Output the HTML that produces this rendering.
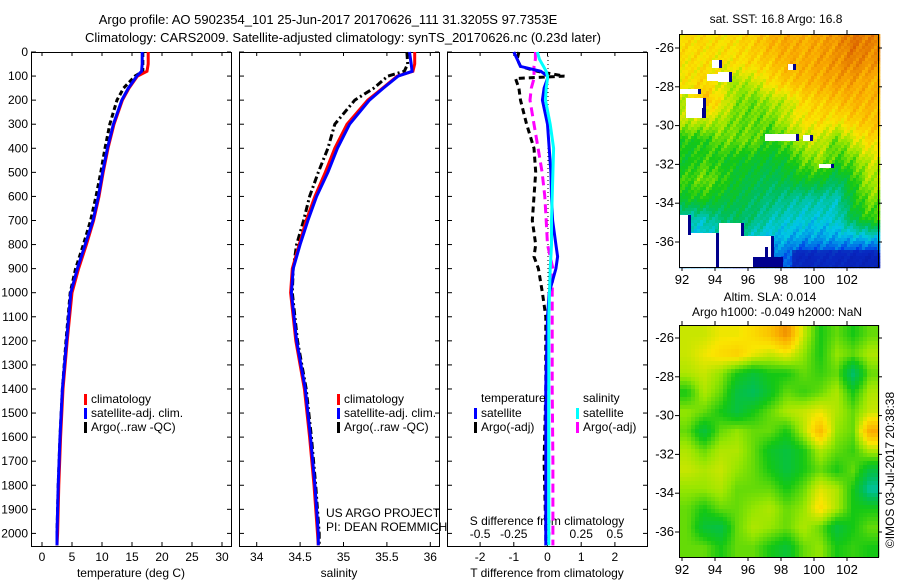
<!DOCTYPE html>
<html><head><meta charset="utf-8"><style>
html,body{margin:0;padding:0;background:#fff;}
svg{display:block;font-family:"Liberation Sans",sans-serif;}
</style></head><body>
<svg id="fig" width="900" height="580" viewBox="0 0 900 580">
<rect width="900" height="580" fill="#fff"/>
<text x="328" y="24" font-size="13" text-anchor="middle">Argo profile: AO 5902354_101 25-Jun-2017 20170626_111 31.3205S 97.7353E</text>
<text x="343" y="42" font-size="13" text-anchor="middle">Climatology: CARS2009. Satellite-adjusted climatology: synTS_20170626.nc (0.23d later)</text>
<g id="g"></g>
</svg>
<script>
// ---- profile data ----
const depths=[0,50,80,100,150,200,300,400,500,600,700,800,900,1000,1200,1400,1600,1800,2000,2050];
const tempClim=[17.7,17.7,17.5,15.9,14.5,13.4,12.0,11.0,10.2,9.5,8.6,7.4,6.1,5.0,4.2,3.5,3.1,2.8,2.6,2.5];
const tempSat=[16.7,16.7,16.6,15.8,14.4,13.3,11.9,10.9,10.1,9.4,8.5,7.2,5.9,4.8,4.1,3.4,3.0,2.7,2.5,2.5];
const tempArgo=[16.8,16.8,16.8,15.5,13.6,12.5,11.3,10.5,9.8,9.0,8.1,6.9,5.6,4.7,4.0,3.4,3.0,2.7,2.5,2.5];
const salClim=[35.82,35.82,35.80,35.62,35.45,35.28,35.04,34.90,34.79,34.67,34.57,34.49,34.41,34.39,34.45,34.55,34.61,34.66,34.70,34.71];
const salSat=[35.76,35.78,35.79,35.63,35.46,35.30,35.07,34.93,34.82,34.69,34.59,34.50,34.42,34.40,34.46,34.56,34.62,34.67,34.71,34.71];
const salArgo=[35.73,35.74,35.70,35.51,35.35,35.13,34.90,34.82,34.71,34.61,34.54,34.46,34.42,34.41,34.47,34.57,34.63,34.68,34.72,34.72];
const dDepths=[0,30,60,80,100,110,150,200,300,400,500,600,700,800,850,900,1000,1100,1400,1700,2000,2050];
const tDiffSat=[-1.0,-0.9,-0.8,-0.2,0.0,0.0,-0.1,-0.15,0.0,0.05,0.1,0.12,0.15,0.25,0.3,0.25,0.05,0.0,-0.05,-0.05,-0.05,-0.05];
const tDiffArgo=[-0.85,-0.9,-0.8,-0.3,0.5,-0.95,-0.85,-0.8,-0.62,-0.4,-0.35,-0.4,-0.45,-0.35,-0.4,-0.27,-0.15,-0.05,-0.05,-0.1,-0.05,-0.05];
const sDiffSat=[-0.075,-0.06,-0.03,-0.01,0.0,0.0,-0.01,-0.015,0.02,0.045,0.04,0.035,0.03,0.03,0.025,0.02,0.015,0.01,0.01,0.01,0.01,0.01];
const sDiffArgo=[-0.09,-0.09,-0.1,-0.1,-0.1,-0.1,-0.12,-0.13,-0.1,-0.07,-0.04,-0.02,-0.01,0.0,0.02,0.04,0.035,0.035,0.035,0.04,0.04,0.04];
const depthTicks=[0,100,200,300,400,500,600,700,800,900,1000,1100,1200,1300,1400,1500,1600,1700,1800,1900,2000];
const tempTicks=[0,5,10,15,20,25,30];
const salTicks=[34,34.5,35,35.5,36];
const tdTicks=[-2,-1,0,1,2];
const sdTicks=[-0.5,-0.25,0,0.25,0.5];
// ---- map data (colormap fraction) ----
const mapLons=[92,94,96,98,100,102];
const mapLats=[-26,-28,-30,-32,-34,-36];
const sstGrid=[
[.68,.68,.67,.68,.70,.74,.76,.75,.77,.79,.84,.82],
[.67,.67,.66,.67,.69,.71,.75,.75,.77,.79,.82,.79],
[.66,.69,.63,.59,.61,.67,.71,.73,.75,.77,.77,.75],
[.61,.74,.66,.57,.55,.59,.61,.68,.70,.72,.74,.74],
[.61,.61,.59,.55,.55,.55,.61,.66,.68,.66,.70,.72],
[.50,.50,.55,.55,.55,.50,.55,.60,.62,.55,.62,.68],
[.48,.52,.50,.48,.48,.46,.48,.55,.58,.52,.55,.62],
[.52,.56,.52,.47,.45,.43,.45,.48,.48,.42,.50,.60],
[.48,.50,.46,.45,.42,.40,.38,.36,.36,.34,.48,.56],
[.34,.34,.40,.42,.40,.35,.33,.32,.31,.33,.44,.52],
[.30,.30,.34,.38,.32,.29,.28,.26,.26,.27,.28,.30],
[.25,.25,.25,.12,.16,.22,.20,.12,.15,.14,.12,.10]];
const slaGrid=[
[.62,.62,.65,.65,.68,.72,.80,.62,.50,.55,.50,.55],
[.62,.65,.68,.70,.65,.62,.65,.58,.50,.58,.55,.60],
[.60,.62,.58,.50,.46,.50,.50,.55,.52,.55,.40,.55],
[.50,.60,.55,.45,.42,.48,.55,.52,.55,.60,.50,.60],
[.58,.55,.50,.45,.50,.55,.60,.62,.65,.60,.55,.62],
[.55,.45,.55,.58,.55,.55,.50,.60,.74,.58,.55,.76],
[.60,.55,.60,.60,.55,.48,.45,.50,.60,.55,.52,.60],
[.62,.60,.62,.58,.55,.50,.45,.50,.55,.50,.55,.45],
[.58,.58,.60,.55,.55,.55,.50,.55,.64,.60,.50,.36],
[.55,.50,.55,.55,.58,.60,.55,.58,.68,.60,.50,.50],
[.55,.46,.44,.55,.60,.58,.55,.60,.55,.45,.50,.55],
[.55,.55,.50,.55,.55,.50,.46,.55,.58,.50,.52,.50]];

const NS='http://www.w3.org/2000/svg';
const G=document.getElementById('g');
function el(tag,attrs,parent){const e=document.createElementNS(NS,tag);for(const k in attrs)e.setAttribute(k,attrs[k]);(parent||G).appendChild(e);return e;}
const TOP=52,BOT=546;
const yD=d=>TOP+d*0.2407;
const xT=v=>42+v*6;
const xS=v=>256.7+(v-34)*86.8;
const xTD=v=>547.5+v*33.7;
const xSD=v=>547.5+v*134.8;

function line(xs,ys,xf,color,w,dash,name){
  const pts=xs.map((v,i)=>xf(v).toFixed(1)+','+yD(ys[i]).toFixed(1)).join(' ');
  const p=el('polyline',{points:pts,fill:'none',stroke:color,'stroke-width':w});
  if(dash)p.setAttribute('stroke-dasharray',dash);
  
  
}
function panel(x0,x1,name,ticks,xf,labels,title,leftLabels){
  const r=el('rect',{x:x0+.5,y:TOP+.5,width:x1-x0,height:BOT-TOP,fill:'none',stroke:'#000','stroke-width':1});
  
  
  depthTicks.forEach(d=>{
    el('line',{x1:x0,x2:x0+5,y1:yD(d),y2:yD(d),stroke:'#000'});
    el('line',{x1:x1-4,x2:x1,y1:yD(d),y2:yD(d),stroke:'#000'});
    if(leftLabels){const t=el('text',{x:x0-3,y:yD(d)+4,'font-size':12,'text-anchor':'end'});t.textContent=d;
      
      }
  });
  if(ticks) ticks.forEach((v,i)=>{
    const x=xf(v);
    el('line',{x1:x,x2:x,y1:BOT-4,y2:BOT,stroke:'#000'});
    el('line',{x1:x,x2:x,y1:TOP,y2:TOP+4,stroke:'#000'});
    const t=el('text',{x:x,y:561,'font-size':12,'text-anchor':'middle'});t.textContent=labels[i];
    
    
  });
  const tt=el('text',{x:(x0+x1)/2,y:577,'font-size':12,'text-anchor':'middle'});tt.textContent=title;
  
  
}
panel(31,231,'temperature-panel',tempTicks,xT,tempTicks,'temperature (deg C)',true);
panel(239,439,'salinity-panel',salTicks,xS,salTicks,'salinity',false);
panel(447,647,'difference-panel',tdTicks,xTD,tdTicks,'T difference from climatology',false);
sdTicks.forEach(v=>{const t=el('text',{x:xSD(v),y:538,'font-size':12,'text-anchor':'middle'});t.textContent=v;
  
  });
{const t=el('text',{x:547,y:525,'font-size':12,'text-anchor':'middle'});t.textContent='S difference from climatology';
 
 }
{const z=el('line',{x1:548,x2:548,y1:TOP,y2:BOT,stroke:'#000','stroke-dasharray':'1,3'});
 
 }

line(tempArgo,depths,xT,'#000',3,'5,3','temp-argo-line');
line(tempClim,depths,xT,'#f00',3,null,'temp-climatology-line');
line(tempSat,depths,xT,'#00f',3,null,'temp-satellite-line');
line(salArgo,depths,xS,'#000',3,'7,3,2,3','sal-argo-line');
line(salClim,depths,xS,'#f00',3,null,'sal-climatology-line');
line(salSat,depths,xS,'#00f',3,null,'sal-satellite-line');
line(tDiffArgo,dDepths,xTD,'#000',3,'6,4','tdiff-argo-line');
line(sDiffArgo,dDepths,xSD,'#f0f',3,'9,5','sdiff-argo-line');
line(tDiffSat,dDepths,xTD,'#00f',3,null,'tdiff-satellite-line');
line(sDiffSat,dDepths,xSD,'#0ff',3,null,'sdiff-satellite-line');

function legend(x,y,color,label,name){
  const m=el('rect',{x:x,y:y-9,width:3,height:11,fill:color});
  
  
  const t=el('text',{x:x+7,y:y,'font-size':12});t.textContent=label;
  
  
}
legend(84,403,'#f00','climatology','legend-climatology');
legend(84,417,'#00f','satellite-adj. clim.','legend-satellite');
legend(84,431,'#000','Argo(..raw -QC)','legend-argo');
legend(337,403,'#f00','climatology','legend-sal-climatology');
legend(337,417,'#00f','satellite-adj. clim.','legend-sal-satellite');
legend(337,431,'#000','Argo(..raw -QC)','legend-sal-argo');
{const t=el('text',{x:481,y:402,'font-size':12});t.textContent='temperature';
 
 }
{const t=el('text',{x:583,y:402,'font-size':12});t.textContent='salinity';
 
 }
legend(474,417,'#00f','satellite','legend-tdiff-satellite');
legend(474,431,'#000','Argo(-adj)','legend-tdiff-argo');
legend(576,417,'#0ff','satellite','legend-sdiff-satellite');
legend(576,431,'#f0f','Argo(-adj)','legend-sdiff-argo');
{const t=el('text',{x:326,y:517,'font-size':12});t.textContent='US ARGO PROJECT';
 
 
 const t2=el('text',{x:326,y:531,'font-size':12});t2.textContent='PI: DEAN ROEMMICH';
 
 }

// ---- maps ----
const cmapStops=[[0,[0,0,140]],[0.15,[0,50,230]],[0.3,[0,200,230]],[0.42,[0,190,90]],[0.5,[20,200,20]],[0.58,[150,230,0]],[0.66,[250,230,0]],[0.76,[250,170,0]],[0.88,[215,90,0]],[1,[180,40,0]]];
function cmap(v){
  v=Math.max(0,Math.min(1,v));
  for(let k=1;k<cmapStops.length;k++){
    if(v<=cmapStops[k][0]){const a=cmapStops[k-1],b=cmapStops[k],t=(v-a[0])/(b[0]-a[0]);
      return 'rgb('+a[1].map((c,i)=>Math.round(c+(b[1][i]-c)*t)).join(',')+')';}
  }
  return 'rgb(180,40,0)';
}
const MX0=679,MX1=878;
const xLon=l=>682+(l-92)*16.5;
function drawMap(grid,y0,y1,name,step,blocky){
  const gg=el('g',{});
  
  
  const R=grid.length,C=grid[0].length,W=MX1-MX0,H=y1-y0;
  for(let py=0;py<H;py+=step){for(let px=0;px<W;px+=step){
    let fx=(px+step/2)/W*C-0.5,fy=(py+step/2)/H*R-0.5;
    let jitter=0;
    if(blocky){jitter=(Math.sin(py*1.7+px*0.45)*Math.cos(px*0.9-py*0.2))*0.04;}
    fx=Math.max(0,Math.min(C-1.001,fx));fy=Math.max(0,Math.min(R-1.001,fy));
    const i=Math.floor(fy),j=Math.floor(fx),a=fy-i,b=fx-j;
    const v=grid[i][j]*(1-a)*(1-b)+grid[i][j+1]*(1-a)*b+grid[i+1][j]*a*(1-b)+grid[i+1][j+1]*a*b+jitter;
    el('rect',{x:MX0+px,y:y0+py,width:step+.3,height:step+.3,fill:cmap(v)},gg);
  }}
  return gg;
}
function mapAxes(y0,y1,latToY,name){
  el('rect',{x:MX0+.5,y:y0+.5,width:MX1-MX0,height:y1-y0,fill:'none',stroke:'#000'});
  mapLons.forEach(l=>{const x=xLon(l);
    el('line',{x1:x,x2:x,y1:y1,y2:y1+4,stroke:'#000'});
    el('line',{x1:x,x2:x,y1:y0-4,y2:y0,stroke:'#000'});
    const t=el('text',{x:x,y:y1+17,'font-size':13,'text-anchor':'middle'});t.textContent=l;
    
    });
  mapLats.forEach(l=>{const y=latToY(l);
    el('line',{x1:MX0-4,x2:MX0,y1:y,y2:y,stroke:'#000'});
    el('line',{x1:MX1,x2:MX1+4,y1:y,y2:y,stroke:'#000'});
    const t=el('text',{x:MX0-5,y:y+4,'font-size':13,'text-anchor':'end'});t.textContent=l;
    
    });
}
drawMap(sstGrid,34,267,'sst-map',3,true);
[[679,233,40,34],[679,215,12,20],[719,223,25,44],[730,236,44,31],[755,247,13,20],[679,89,22,5],[686,98,20,20],[690,108,15,10],[712,60,10,8],[707,74,18,7],[718,72,14,10],[765,134,34,7],[803,135,10,6],[819,164,15,4],[788,64,8,6]].forEach(r=>{
  el('rect',{x:r[0],y:r[1],width:r[2],height:r[3],fill:'#fff'});
  el('rect',{x:r[0]+r[2]-3,y:r[1],width:3,height:r[3],fill:'#00008b'});
});
el('rect',{x:753,y:257,width:30,height:10,fill:'#00008f'});
el('rect',{x:792,y:250,width:86,height:17,fill:'#0a23b0',opacity:.7});
mapAxes(34,267,l=>48+(-26-l)*19.4,'sst-map');
drawMap(slaGrid,325,557,'sla-map',4,false);
mapAxes(325,557,l=>338+(-26-l)*19.4,'sla-map');
[[776,23,'sat. SST: 16.8 Argo: 16.8','sst-map-title'],[770,301,'Altim. SLA: 0.014','sla-value-label'],[777,316,'Argo h1000: -0.049 h2000: NaN','argo-height-label']].forEach(a=>{
  const t=el('text',{x:a[0],y:a[1],'font-size':12,'text-anchor':'middle'});t.textContent=a[2];
  
  });
{const t=el('text',{x:894,y:470,'font-size':12,'text-anchor':'middle',transform:'rotate(-90 894 470)'});t.textContent='©IMOS 03-Jul-2017 20:38:38';
 
 }
</script>
</body></html>
